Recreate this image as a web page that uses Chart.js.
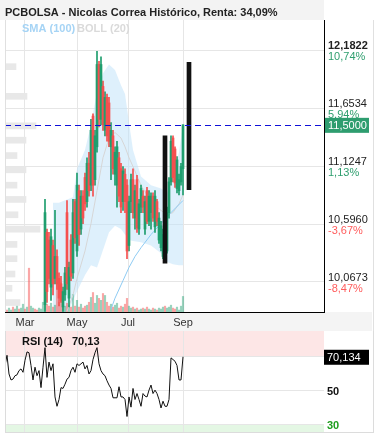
<!DOCTYPE html>
<html>
<head>
<meta charset="utf-8">
<script src="https://cdn.jsdelivr.net/npm/chart.js@4.4.0/dist/chart.umd.min.js"></script>
<style>
  html, body { margin: 0; padding: 0; background: #fff; }
  #wrap { position: relative; width: 378px; height: 435px; overflow: hidden; }
  canvas { position: absolute; left: 0; }
  #principal { top: 0; }
  #rsi { top: 331px; }
</style>
</head>
<body>
<div id="wrap">
  <canvas id="principal" width="378" height="331"></canvas>
  <canvas id="rsi" width="378" height="104"></canvas>
</div>
<script>
// Datos (sesiones numeradas desde principios de febrero)
const titulo = "PCBOLSA - Nicolas Correa Histórico, Renta: 34,09%";
const meses = ["Mar", "May", "Jul", "Sep"];
const mesesPos = [10, 36, 61.5, 89];

// Eje de precios y % respecto a la base
const nivelesY = [10.0673, 10.5960, 11.1247, 11.6534, 12.1822];
const etiquetasPct = ["-8,47%", "-3,67%", "1,13%", "5,94%", "10,74%"];

// Velas: primera sesión visible
const inicio = 20;
const apertura = [9.86, 10.52, 10.45, 10.02, 10.40, 10.10, 10.30, 10.10, 10.05, 9.84,
  9.95, 10.70, 9.92, 10.45, 10.15, 10.80, 10.35, 10.90, 10.55, 10.85,
  11.02, 10.80, 11.15, 10.95, 11.58, 11.00, 11.30, 12.05, 11.55, 11.85,
  11.45, 11.75, 11.70, 11.30, 11.40, 11.05, 10.95, 11.20, 11.10, 10.80,
  11.05, 10.95, 10.40, 10.80, 11.00, 10.65, 11.00, 10.55, 10.75, 10.85,
  10.55, 10.90, 10.62, 10.70, 10.85, 10.57, 10.80, 10.45, 10.38, 10.30,
  10.55, 10.35, 10.70, 10.98, 11.38, 11.28, 10.92, 10.90, 10.98, 11.10];
const maximo = [10.82, 10.55, 10.52, 10.55, 10.45, 10.72, 10.36, 10.15, 10.12, 10.02,
  10.20, 10.81, 10.25, 10.50, 10.82, 10.82, 11.06, 10.95, 10.90, 10.90,
  11.06, 11.20, 11.25, 11.55, 11.60, 11.45, 12.17, 12.08, 12.12, 11.90,
  11.80, 11.78, 11.75, 11.52, 11.45, 11.30, 11.35, 11.25, 11.15, 11.12,
  11.10, 11.00, 10.85, 11.05, 11.10, 10.95, 11.04, 10.82, 10.95, 10.90,
  10.85, 10.93, 10.90, 10.88, 10.88, 10.90, 10.82, 10.70, 10.62, 10.55,
  10.60, 10.75, 11.02, 11.40, 11.40, 11.30, 11.21, 11.05, 11.15, 11.50];
const minimo = [9.80, 9.88, 10.05, 9.90, 9.95, 10.05, 10.00, 9.85, 9.88, 9.80,
  9.90, 10.00, 9.84, 10.08, 10.10, 10.42, 10.30, 10.40, 10.50, 10.60,
  10.72, 10.75, 10.85, 10.90, 10.85, 10.95, 11.25, 11.48, 11.50, 11.45,
  11.40, 11.35, 11.30, 11.00, 11.05, 10.95, 10.75, 10.80, 10.70, 10.72,
  10.70, 10.28, 10.35, 10.70, 10.65, 10.55, 10.52, 10.50, 10.70, 10.70,
  10.50, 10.60, 10.58, 10.55, 10.62, 10.52, 10.58, 10.42, 10.35, 10.28,
  10.30, 10.33, 10.65, 10.95, 10.98, 10.93, 10.88, 10.86, 10.95, 10.86];
const cierre = [10.70, 9.98, 10.10, 10.48, 10.05, 10.30, 10.05, 9.92, 9.90, 9.98,
  10.15, 10.05, 10.20, 10.12, 10.70, 10.47, 10.95, 10.50, 10.85, 10.65,
  10.78, 11.15, 10.90, 11.45, 10.95, 11.40, 12.05, 11.55, 12.05, 11.50,
  11.75, 11.40, 11.35, 11.45, 11.10, 11.25, 11.30, 10.85, 10.75, 11.08,
  10.80, 10.35, 10.80, 11.00, 10.70, 10.90, 10.56, 10.78, 10.92, 10.75,
  10.80, 10.62, 10.85, 10.85, 10.65, 10.85, 10.62, 10.65, 10.58, 10.50,
  10.35, 10.70, 10.98, 11.35, 11.02, 10.97, 11.18, 11.00, 11.12, 11.50];

// Volumen (miles) desde la sesión 0
const volumen = [3, 2, 4, 2, 5, 3, 6, 3, 4, 8, 3, 5, 45, 6, 4, 3, 2, 4, 3, 10,
  12, 8, 6, 9, 5, 7, 38, 10, 30, 8, 6, 9, 7, 5, 18, 6, 12, 5, 8, 4,
  6, 7, 10, 15, 20, 9, 17, 14, 12, 19, 17, 10, 6, 8, 5, 7, 9, 4, 6, 5,
  8, 14, 6, 4, 5, 3, 4, 2, 3, 4, 3, 5, 3, 2, 4, 3, 2, 4, 3, 5,
  6, 4, 5, 7, 4, 3, 5, 2, 6, 16];
const volSubePrevio = [1, 0, 1, 1, 0, 1, 1, 0, 1, 1, 0, 1, 0, 1, 1, 0, 0, 1, 1, 1];

// Bollinger (20) y SMA (100)
const bbSesion = [24, 27, 31, 34, 36, 40, 43, 46, 49, 52, 55, 58, 60, 62, 64, 68, 73, 78, 81, 84, 87, 89];
const bbSup = [10.79, 10.79, 10.82, 10.84, 11.10, 11.27, 11.50, 11.80, 11.97, 12.05, 12.00,
  11.86, 11.78, 11.52, 11.27, 11.03, 10.95, 10.92, 10.88, 11.00, 11.25, 11.50];
const bbInf = [9.70, 9.70, 9.78, 9.90, 9.98, 10.13, 10.22, 10.20, 10.36, 10.52, 10.58,
  10.55, 10.50, 10.45, 10.44, 10.43, 10.40, 10.33, 10.25, 10.23, 10.22, 10.22];
const bbMed = [null, null, 9.80, 9.95, 10.10, 10.35, 10.60, 10.90, 11.20, 11.38, 11.43,
  11.38, 11.30, 11.20, 11.12, 10.95, 10.80, 10.72, 10.68, 10.70, 10.78, 10.86];
const smaSesion = [53, 55, 59, 62, 65, 68, 73, 78, 83, 89];
const sma = [9.82, 9.92, 10.08, 10.20, 10.30, 10.38, 10.50, 10.60, 10.70, 10.81];

// Perfil de volumen por nivel de precio
const perfilNivel = [9.88, 10.01, 10.14, 10.28, 10.41, 10.55, 10.68, 10.82, 10.95,
  11.09, 11.22, 11.36, 11.49, 11.63, 11.76, 11.90, 12.03];
const perfilVol = [15, 7, 10, 12, 12, 35, 13, 21, 12, 21, 12, 21, 31, 0, 22, 0, 11];

// Marcas negras (rangos)
const marcaSesion = [80, 92];
const marcaMin = [10.24, 10.91];
const marcaMax = [11.40, 12.07];

// RSI (14) desde la sesión 0
const rsi = [65, 71, 60, 56.5, 57, 59, 59.5, 62, 63, 61,
  68, 73, 72.5, 65, 56.5, 64, 59, 62, 52, 64,
  75.5, 58, 67, 62, 66, 46.5, 41, 45, 52, 51.5,
  54, 57, 58, 62, 64, 61, 66, 65, 66, 67,
  63, 65, 60, 62, 68.5, 72.5, 75.5, 66, 62, 60,
  59, 56, 53.5, 51.5, 46, 46, 46, 52.5, 46.5, 46.5,
  45, 35, 46.5, 40.5, 51.5, 45, 48.5, 45, 41, 48.5,
  47, 46.5, 50.5, 53.5, 48.5, 50.5, 48.5, 45, 40, 44,
  41, 41, 45, 69.5, 68.5, 67.5, 65, 56.5, 56.5, 70.134];
const rsiNiveles = [30, 50, 70];

Chart.defaults.font.family = "'Liberation Sans', Arial, sans-serif";
Chart.defaults.font.size = 11;

const verde = "#1f9e6e";
const rojo = "#f5504f";
const sesiones = apertura.map((_, i) => inicio + i);
const colorVela = sesiones.map((_, i) => (cierre[i] >= apertura[i] ? verde : rojo));
const colorVol = volumen.map((_, i) => {
  const sube = i < inicio ? volSubePrevio[i] === 1 : cierre[i - inicio] >= apertura[i - inicio];
  return sube ? "rgba(31,158,110,0.45)" : "rgba(245,80,79,0.5)";
});
const fmt = (v, d) => v.toFixed(d).replace(".", ",");

const decorado = {
  id: "decorado",
  beforeDraw(chart) {
    const c = chart.ctx, a = chart.chartArea;
    c.save();
    c.fillStyle = "#f3f3f3";
    c.fillRect(0, 0, a.right, a.top);
    c.fillStyle = "#f4f4f4";
    c.fillRect(a.left, a.bottom, 372 - a.left, chart.height - a.bottom);
    c.restore();
  },
  afterDatasetsDraw(chart) {
    const c = chart.ctx, a = chart.chartArea, ys = chart.scales.y;
    const yU = Math.round(ys.getPixelForValue(cierre[cierre.length - 1])) + 0.5;
    c.save();
    c.strokeStyle = "#1010d8";
    c.lineWidth = 1;
    c.setLineDash([6, 4]);
    c.beginPath(); c.moveTo(a.left, yU); c.lineTo(a.right, yU); c.stroke();
    c.setLineDash([]);
    c.strokeStyle = "#e0e0e0";
    c.beginPath(); c.moveTo(a.left + 0.5, a.top); c.lineTo(a.left + 0.5, a.bottom); c.stroke();
    c.beginPath(); c.moveTo(373.5, a.top); c.lineTo(373.5, chart.height); c.stroke();
    c.restore();
  },
  afterDraw(chart) {
    const c = chart.ctx, a = chart.chartArea, ys = chart.scales.y;
    c.save();
    c.textAlign = "left";
    c.textBaseline = "alphabetic";
    c.font = "bold 11px 'Liberation Sans', Arial, sans-serif";
    c.fillStyle = "#222";
    c.fillText(titulo, 5, 16);
    c.fillStyle = "#a6d4f5";
    c.fillText("SMA (100)", 22, 32);
    c.fillStyle = "#dadada";
    c.fillText("BOLL (20)", 77, 32);

    nivelesY.forEach((v, i) => {
      const y = ys.getPixelForValue(v);
      const ultimo = i === nivelesY.length - 1;
      c.font = (ultimo ? "bold " : "") + "11px 'Liberation Sans', Arial, sans-serif";
      c.fillStyle = "#222";
      c.fillText(fmt(v, 4), a.right + 4, y - 1);
      c.font = "11px 'Liberation Sans', Arial, sans-serif";
      c.fillStyle = etiquetasPct[i].startsWith("-") ? "#ff5c5c" : "#2e9e6e";
      c.fillText(etiquetasPct[i], a.right + 4, y + 10);
    });

    const ult = cierre[cierre.length - 1];
    const yU = ys.getPixelForValue(ult);
    c.fillStyle = "#2e9d6f";
    c.fillRect(a.right + 1, yU - 7, 44, 15);
    c.fillStyle = "#fff";
    c.font = "11px 'Liberation Sans', Arial, sans-serif";
    c.textBaseline = "middle";
    c.fillText(fmt(ult, 4), a.right + 4, yU + 1);
    c.restore();
  }
};

new Chart(document.getElementById("principal"), {
  type: "bar",
  data: {
    datasets: [
      {
        label: "perfil",
        indexAxis: "y",
        xAxisID: "xp",
        yAxisID: "y",
        data: perfilNivel.map((p, i) => ({ x: perfilVol[i], y: p })),
        backgroundColor: "#e8e8e8",
        barThickness: 6,
        grouped: false,
        order: 10
      },
      {
        type: "line",
        label: "bbSup",
        data: bbSesion.map((s, i) => ({ x: s, y: bbSup[i] })),
        borderWidth: 0,
        pointRadius: 0,
        fill: "+1",
        backgroundColor: "rgba(190,225,250,0.5)",
        order: 9
      },
      {
        type: "line",
        label: "bbInf",
        data: bbSesion.map((s, i) => ({ x: s, y: bbInf[i] })),
        borderWidth: 0,
        pointRadius: 0,
        fill: false,
        order: 8
      },
      {
        label: "volumen",
        yAxisID: "yv",
        data: volumen.map((v, i) => ({ x: i, y: v })),
        backgroundColor: colorVol,
        barThickness: 1.5,
        grouped: false,
        order: 7
      },
      {
        type: "line",
        label: "BOLL (20)",
        data: bbSesion.map((s, i) => ({ x: s, y: bbMed[i] })),
        borderColor: "#d6d6d6",
        borderWidth: 1,
        pointRadius: 0,
        fill: false,
        order: 6
      },
      {
        type: "line",
        label: "SMA (100)",
        data: smaSesion.map((s, i) => ({ x: s, y: sma[i] })),
        borderColor: "#8ecbf3",
        borderWidth: 1,
        pointRadius: 0,
        fill: false,
        order: 5
      },
      {
        label: "mecha",
        data: sesiones.map((s, i) => ({ x: s, y: [minimo[i], maximo[i]] })),
        backgroundColor: colorVela,
        barThickness: 1,
        grouped: false,
        order: 4
      },
      {
        label: "cuerpo",
        data: sesiones.map((s, i) => ({ x: s, y: [apertura[i], cierre[i]] })),
        backgroundColor: colorVela,
        barThickness: 2,
        grouped: false,
        order: 3
      },
      {
        label: "marcas",
        data: marcaSesion.map((s, i) => ({ x: s, y: [marcaMin[i], marcaMax[i]] })),
        backgroundColor: "#111",
        barThickness: 4,
        grouped: false,
        order: 1
      }
    ]
  },
  options: {
    responsive: false,
    animation: false,
    events: [],
    layout: { padding: { left: 5, top: 20, right: 0, bottom: 0 } },
    plugins: { legend: { display: false }, tooltip: { enabled: false } },
    scales: {
      x: {
        type: "linear",
        min: 0,
        max: 159.5,
        offset: false,
        afterBuildTicks: (s) => { s.ticks = mesesPos.map((v) => ({ value: v })); },
        ticks: { callback: (v, i) => meses[i], color: "#333", padding: 4, maxRotation: 0, autoSkip: false },
        grid: { color: "#e6e6e6", drawTicks: false, offset: false },
        border: { color: "#000", width: 1 },
        afterFit: (s) => { s.height = 19; }
      },
      y: {
        type: "linear",
        position: "right",
        min: 9.7938,
        max: 12.4557,
        offset: false,
        afterBuildTicks: (s) => { s.ticks = nivelesY.map((v) => ({ value: v })); },
        ticks: { display: false },
        grid: { color: "#e6e6e6", drawTicks: false, offset: false },
        border: { color: "#000", width: 1 },
        afterFit: (s) => { s.width = 54; }
      },
      yv: { type: "linear", display: false, min: 0, max: 300 },
      xp: { type: "linear", display: false, min: 0, max: 319, offset: false }
    }
  },
  plugins: [decorado]
});

const bandasRsi = {
  id: "bandasRsi",
  beforeDraw(chart) {
    const c = chart.ctx, a = chart.chartArea, ys = chart.scales.y;
    const y70 = ys.getPixelForValue(70), y30 = ys.getPixelForValue(30);
    c.save();
    c.fillStyle = "#fde6e6";
    c.fillRect(a.left, a.top, a.right - a.left, y70 - a.top);
    c.fillStyle = "#e4f7e4";
    c.fillRect(a.left, y30, a.right - a.left, a.bottom - y30);
    c.restore();
  },
  afterDraw(chart) {
    const c = chart.ctx, a = chart.chartArea, ys = chart.scales.y;
    const ult = rsi[rsi.length - 1];
    c.save();
    c.strokeStyle = "#dcdcdc";
    c.lineWidth = 1;
    c.strokeRect(a.left + 0.5, -1, 373 - a.left, a.bottom + 1.5);
    c.textAlign = "left";
    c.textBaseline = "alphabetic";
    c.font = "bold 11px 'Liberation Sans', Arial, sans-serif";
    c.fillStyle = "#111";
    c.fillText("RSI (14)", 22, 14);
    c.fillText(fmt(ult, 2), 72, 14);
    c.textBaseline = "middle";
    c.fillText("50", a.right + 3, ys.getPixelForValue(50) + 1);
    c.fillStyle = "#1e9e1e";
    c.fillText("30", a.right + 3, ys.getPixelForValue(30) + 1);
    const y = ys.getPixelForValue(ult);
    c.fillStyle = "#000";
    c.fillRect(a.right, y - 7, 45, 15);
    c.fillStyle = "#fff";
    c.font = "11px 'Liberation Sans', Arial, sans-serif";
    c.fillText(fmt(ult, 3), a.right + 3, y + 1);
    c.restore();
  }
};

new Chart(document.getElementById("rsi"), {
  type: "line",
  data: {
    datasets: [{
      label: "RSI (14)",
      data: rsi.map((v, i) => ({ x: i, y: v })),
      borderColor: "#111",
      borderWidth: 1,
      pointRadius: 0,
      tension: 0,
      fill: false
    }]
  },
  options: {
    responsive: false,
    animation: false,
    events: [],
    layout: { padding: { left: 5, top: 0, right: 0, bottom: 0 } },
    plugins: { legend: { display: false }, tooltip: { enabled: false } },
    scales: {
      x: {
        type: "linear",
        min: 0,
        max: 159.5,
        afterBuildTicks: (s) => { s.ticks = mesesPos.map((v) => ({ value: v })); },
        ticks: { display: false },
        grid: { color: "#e6e6e6", drawTicks: false },
        border: { display: false },
        afterFit: (s) => { s.height = 3; }
      },
      y: {
        type: "linear",
        position: "right",
        min: 25.88,
        max: 85.29,
        afterBuildTicks: (s) => { s.ticks = rsiNiveles.map((v) => ({ value: v })); },
        ticks: { display: false },
        grid: { color: "#e6e6e6", drawTicks: false },
        border: { display: false },
        afterFit: (s) => { s.width = 54; }
      }
    }
  },
  plugins: [bandasRsi]
});
</script>
</body>
</html>
